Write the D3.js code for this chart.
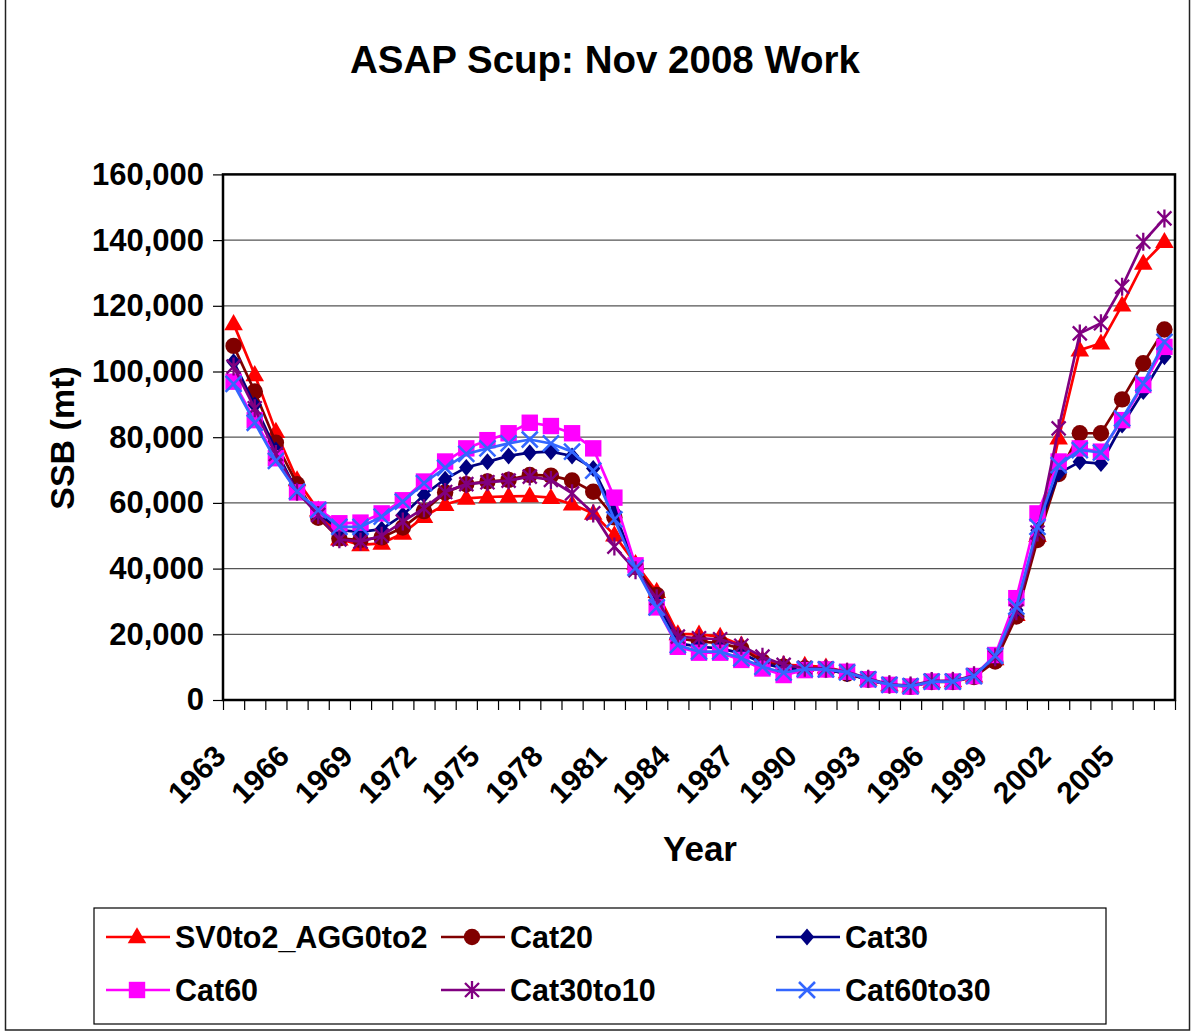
<!DOCTYPE html>
<html>
<head>
<meta charset="utf-8">
<script src="https://cdn.jsdelivr.net/npm/d3@7"></script>
<style>
  html, body { margin: 0; padding: 0; background: #fff; }
  svg { display: block; }
  text { font-family: "Liberation Sans", Arial, sans-serif; font-weight: bold; fill: #000; }
</style>
</head>
<body>
<svg id="chart" width="1194" height="1034"></svg>
<script>
const years = d3.range(1963, 2008);
const tickYears = [1963, 1966, 1969, 1972, 1975, 1978, 1981, 1984, 1987, 1990, 1993, 1996, 1999, 2002, 2005];
const yTicks = [0, 20000, 40000, 60000, 80000, 100000, 120000, 140000, 160000];

// values in thousands of mt, 1963..2007
const sv0to2_agg0to2 = [114.5, 99, 81.7, 67, 57.8, 49, 47.2, 47.7, 50.7, 55.8, 59.5, 61.4, 61.8, 62, 62.1, 61.6, 59.6, 56.8, 50.2, 41.5, 33, 20.1, 20, 19.3, 16.7, 12.2, 10.7, 10.5, 10, 8.5, 6.3, 4.6, 4.2, 5.6, 5.8, 7.3, 12.5, 26, 50, 79.7, 106.5, 108.6, 120.2, 132.9, 139.5];
const cat20 = [107.8, 93.9, 78.3, 65.7, 55.5, 49.2, 48.7, 49.5, 52.5, 57.5, 63.2, 65.7, 66.5, 67, 68.5, 68.3, 66.8, 63.4, 55.6, 40.5, 32, 18.8, 17.8, 17.3, 15.7, 11.7, 10.1, 9.6, 9.3, 8.0, 6.2, 4.5, 4.0, 5.5, 5.5, 7.0, 11.7, 25.4, 48.7, 68.8, 81.2, 81.2, 91.5, 102.5, 112.8];
const cat30 = [103, 89.8, 76.1, 63.4, 57, 51.7, 51.2, 52, 56.3, 62.4, 67.2, 70.8, 72.5, 74.3, 75.3, 75.6, 74.3, 70.5, 57.3, 40.5, 30, 17.3, 16.2, 15.7, 14.2, 11.2, 9.6, 9.4, 9.2, 8.0, 6.2, 4.5, 4.2, 5.6, 5.6, 7.2, 13, 27.4, 51.7, 69, 72.5, 72, 83.7, 93.9, 104.5];
const cat60 = [96.9, 85.2, 73.6, 63.2, 58, 53.8, 54, 56.8, 60.8, 66.5, 72.6, 76.6, 79.1, 81.2, 84.4, 83.4, 81.2, 76.6, 61.6, 41, 28.2, 16.2, 14.4, 14.4, 12.2, 9.6, 7.6, 9.1, 9.3, 8.6, 6.3, 4.6, 4.1, 5.6, 5.6, 7.3, 13.7, 31, 56.8, 72.6, 76.6, 75.6, 85.2, 95.9, 107.5];
const cat30to10 = [101.5, 88.8, 74.9, 63.4, 56.3, 48.9, 48.2, 50, 54.3, 58.4, 63.3, 65.7, 66.3, 66.8, 68, 67, 62.9, 56.8, 46.7, 39.5, 31, 19.3, 18.8, 18.5, 16.5, 13.2, 10.7, 9.8, 9.6, 8.6, 6.5, 4.8, 4.4, 5.8, 5.8, 7.5, 13, 27, 51, 82.7, 111.6, 114.7, 125.8, 139.5, 146.6];
const cat60to30 = [96.2, 84.4, 72.8, 63.4, 57.8, 52.7, 52.7, 55.8, 60.4, 66, 70.7, 74.9, 76.6, 78.1, 79.3, 78.1, 75.6, 69.8, 55, 40.2, 28.2, 16.7, 14.7, 14.7, 12.7, 10.1, 8.3, 9.4, 9.3, 8.4, 6.3, 4.6, 4.2, 5.6, 5.6, 7.3, 13.4, 28.4, 52.7, 71.5, 76.1, 75.3, 85.7, 96.4, 109];

const seriesNames = ["SV0to2_AGG0to2", "Cat20", "Cat30", "Cat60", "Cat30to10", "Cat60to30"];
const seriesValues = [sv0to2_agg0to2, cat20, cat30, cat60, cat30to10, cat60to30];
const seriesColors = ["#FF0000", "#800000", "#000080", "#FF00FF", "#800080", "#3366FF"];
const seriesMarkers = ["triangle", "circle", "diamond", "square", "star", "x"];

const svg = d3.select("#chart");
const L = 223, R = 1175, T = 174.4, B = 700;

// outer chart border
svg.append("rect").attr("x", 5.5).attr("y", -2).attr("width", 1184).attr("height", 1032)
  .attr("fill", "none").attr("stroke", "#222").attr("stroke-width", 1.5);

const x = d3.scaleBand().domain(years).range([L, R]);
const xb = d3.scaleLinear().domain([1962.5, 2007.5]).range([L, R]);
const y = d3.scaleLinear().domain([0, 160000]).range([B, T]);
const cx = yr => x(yr) + x.bandwidth() / 2;

// gridlines
svg.append("g").selectAll("line").data(yTicks.filter(v => v > 0 && v < 160000)).join("line")
  .attr("x1", L).attr("x2", R).attr("y1", d => y(d)).attr("y2", d => y(d))
  .attr("stroke", "#555").attr("stroke-width", 1.2);

// y axis
const yAxis = svg.append("g").attr("transform", `translate(${L},0)`)
  .call(d3.axisLeft(y).tickValues(yTicks).tickFormat(d3.format(",")).tickSize(10).tickPadding(9));
yAxis.select(".domain").remove();
yAxis.selectAll("line").attr("stroke", "#000").attr("stroke-width", 1.2);
yAxis.selectAll("text").style("font-size", "31px").style("font-family", "'Liberation Sans', Arial, sans-serif").style("font-weight", "bold");

// x axis ticks at category boundaries
const xAxis = svg.append("g").attr("transform", `translate(0,${B})`)
  .call(d3.axisBottom(xb).tickValues(d3.range(1962.5, 2008, 1)).tickFormat("").tickSize(10));
xAxis.select(".domain").remove();
xAxis.selectAll("line").attr("stroke", "#000").attr("stroke-width", 1.2);

// x labels
svg.append("g").selectAll("text").data(tickYears).join("text")
  .attr("transform", d => `translate(${cx(d) - 6},758) rotate(-45)`)
  .attr("text-anchor", "end").style("font-size", "30px").text(d => d);

// plot border
svg.append("rect").attr("x", L).attr("y", T).attr("width", R - L).attr("height", B - T)
  .attr("fill", "none").attr("stroke", "#000").attr("stroke-width", 2.5);

function drawMarker(g, type, color) {
  if (type === "triangle") {
    g.append("path").attr("d", d3.symbol(d3.symbolTriangle, 150)()).attr("fill", color).attr("transform", "translate(0,1)");
  } else if (type === "circle") {
    g.append("circle").attr("r", 8.2).attr("fill", color);
  } else if (type === "diamond") {
    g.append("path").attr("d", "M0,-8.5L7.2,0L0,8.5L-7.2,0Z").attr("fill", color);
  } else if (type === "square") {
    g.append("rect").attr("x", -8.2).attr("y", -8.2).attr("width", 16.4).attr("height", 16.4).attr("fill", color);
  } else if (type === "star") {
    g.append("path").attr("d", "M-7,-7L7,7M-7,7L7,-7M0,-9L0,9").attr("stroke", color).attr("stroke-width", 2.3).attr("fill", "none");
  } else if (type === "x") {
    g.append("path").attr("d", "M-8,-8L8,8M-8,8L8,-8").attr("stroke", color).attr("stroke-width", 2.5).attr("fill", "none");
  }
}

const line = d3.line().x((d, i) => cx(years[i])).y(d => y(d * 1000));
seriesValues.forEach((vals, si) => {
  const g = svg.append("g");
  g.append("path").datum(vals).attr("d", line).attr("fill", "none")
    .attr("stroke", seriesColors[si]).attr("stroke-width", 2.7);
  vals.forEach((v, i) => {
    const mg = g.append("g").attr("transform", `translate(${cx(years[i])},${y(v * 1000)})`);
    drawMarker(mg, seriesMarkers[si], seriesColors[si]);
  });
});

// title
svg.append("text").attr("x", 605).attr("y", 73).attr("text-anchor", "middle")
  .style("font-size", "38.5px").text("ASAP Scup: Nov 2008 Work");
// axis titles
svg.append("text").attr("transform", "translate(74,438) rotate(-90)").attr("text-anchor", "middle")
  .style("font-size", "34px").text("SSB (mt)");
svg.append("text").attr("x", 700).attr("y", 861).attr("text-anchor", "middle")
  .style("font-size", "35px").text("Year");

// legend
svg.append("rect").attr("x", 94).attr("y", 908).attr("width", 1012).attr("height", 116)
  .attr("fill", "#fff").attr("stroke", "#000").attr("stroke-width", 1.2);
const legPos = [[106, 937], [441, 937], [776, 937], [106, 990], [441, 990], [776, 990]];
seriesNames.forEach((name, si) => {
  const [lx, ly] = legPos[si];
  const g = svg.append("g").attr("transform", `translate(${lx},${ly})`);
  g.append("line").attr("x1", 0).attr("x2", 64).attr("y1", 0).attr("y2", 0)
    .attr("stroke", seriesColors[si]).attr("stroke-width", 2.7);
  const mg = g.append("g").attr("transform", "translate(31,0)");
  drawMarker(mg, seriesMarkers[si], seriesColors[si]);
  g.append("text").attr("x", 69).attr("y", 0).attr("dy", "0.36em").style("font-size", "30.5px").text(name);
});
</script>
</body>
</html>
